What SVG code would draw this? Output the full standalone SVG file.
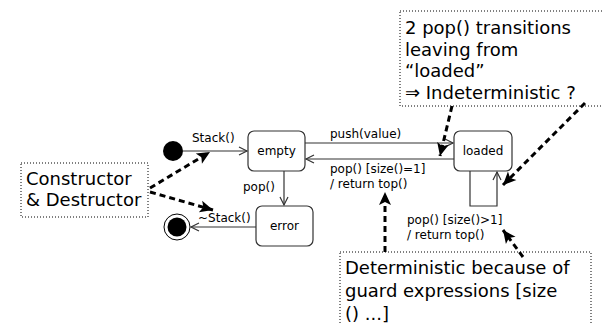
<svg xmlns="http://www.w3.org/2000/svg" width="603" height="325" viewBox="0 0 603 325">
<style>
text{font-family:"DejaVu Sans",Verdana,sans-serif;fill:#000}
.lbl{font-size:12px}
.big{font-size:18px}
.node rect{fill:#fff;stroke:#333;stroke-width:1.2}
.tr{stroke:#333;stroke-width:1.2;fill:none}
.dash{stroke:#000;stroke-width:3;stroke-dasharray:6,4;fill:none}
.note{fill:#fff;stroke:#000;stroke-width:1;stroke-dasharray:1,2}
</style>
<defs>
<marker id="open" markerUnits="userSpaceOnUse" markerWidth="10" markerHeight="10" refX="8" refY="4" orient="auto" overflow="visible">
<path d="M0,0 L8,4 L0,8" fill="none" stroke="#333" stroke-width="1.2"/>
</marker>
<marker id="solid" markerUnits="userSpaceOnUse" markerWidth="14" markerHeight="12" refX="13" refY="6" orient="auto" overflow="visible">
<path d="M0,0 L13,6 L0,12 L3,6 z" fill="#000"/>
</marker>
</defs>

<g id="note-constructor">
<rect class="note" x="21" y="163" width="127" height="54"/>
<text class="big" x="26" y="185">Constructor</text>
<text class="big" x="26" y="206">&amp; Destructor</text>
</g>
<g id="note-indeterministic">
<rect class="note" x="400" y="11" width="206" height="95"/>
<text class="big" x="405" y="34">2 pop() transitions</text>
<text class="big" x="405" y="56">leaving from</text>
<text class="big" x="405" y="77">“loaded”</text>
<text class="big" x="405" y="99">⇒ Indeterministic ?</text>
</g>
<g id="note-deterministic">
<rect class="note" x="340" y="252" width="251" height="80"/>
<text class="big" x="345" y="274">Deterministic because of</text>
<text class="big" x="345" y="297">guard expressions [size</text>
<text class="big" x="345" y="320">() ...]</text>
</g>

<g id="initial"><circle cx="173" cy="151" r="10" fill="#000"/></g>
<g id="final">
<circle cx="177" cy="227" r="13" fill="#fff" stroke="#000" stroke-width="1"/>
<circle cx="177" cy="227" r="9.5" fill="#000"/>
</g>
<g id="empty" class="node"><rect x="248" y="131" width="57" height="40" rx="6"/><text class="lbl" x="276.5" y="155" text-anchor="middle">empty</text></g>
<g id="loaded" class="node"><rect x="454" y="131" width="58" height="40" rx="6"/><text class="lbl" x="483" y="155" text-anchor="middle">loaded</text></g>
<g id="error" class="node"><rect x="256" y="206" width="57" height="40" rx="6"/><text class="lbl" x="284.5" y="230" text-anchor="middle">error</text></g>

<g id="connectors">
<line class="tr" x1="183" y1="151" x2="247" y2="151" marker-end="url(#open)"/>
<text class="lbl" x="192" y="142">Stack()</text>
<line class="tr" x1="305" y1="143" x2="453" y2="143" marker-end="url(#open)"/>
<text class="lbl" x="330" y="138">push(value)</text>
<line class="tr" x1="454" y1="159" x2="306" y2="159" marker-end="url(#open)"/>
<text class="lbl" x="330" y="173">pop() [size()=1]</text>
<text class="lbl" x="330" y="188">/ return top()</text>
<polyline class="tr" points="470,171 470,206 497,206 497,172" marker-end="url(#open)"/>
<text class="lbl" x="407" y="224">pop() [size()&gt;1]</text>
<text class="lbl" x="407" y="239">/ return top()</text>
<line class="tr" x1="284" y1="171" x2="284" y2="205" marker-end="url(#open)"/>
<text class="lbl" x="243" y="191">pop()</text>
<line class="tr" x1="256" y1="227" x2="191" y2="227" marker-end="url(#open)"/>
<text class="lbl" x="198" y="222">~Stack()</text>

<line class="dash" x1="150" y1="188" x2="210" y2="152" marker-end="url(#solid)"/>
<line class="dash" x1="150" y1="192" x2="213" y2="210" marker-end="url(#solid)"/>
<line class="dash" x1="452" y1="106" x2="440" y2="156" marker-end="url(#solid)"/>
<line class="dash" x1="585" y1="103" x2="503" y2="185" marker-end="url(#solid)"/>
<line class="dash" x1="385" y1="252" x2="385" y2="192" marker-end="url(#solid)"/>
<line class="dash" x1="523" y1="257" x2="503" y2="230" marker-end="url(#solid)"/>
</g>
</svg>
